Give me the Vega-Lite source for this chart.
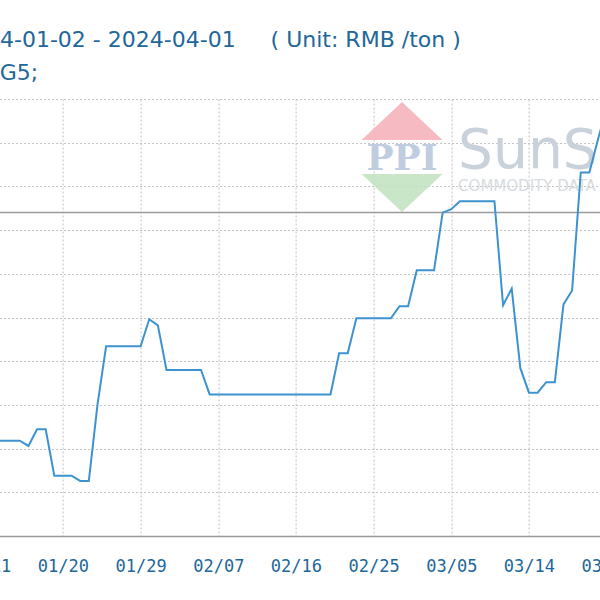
{
  "$schema": "https://vega.github.io/schema/vega-lite/v6.json",
  "autosize": "none",
  "width": 776.7,
  "height": 437,
  "padding": {"left": -92.4, "right": -84.3, "top": 99, "bottom": 64},
  "background": "white",
  "title": {
    "text": "2024-01-02 - 2024-04-01\u00a0\u00a0\u00a0\u00a0\u00a0( Unit: RMB /ton )",
    "anchor": "start",
    "frame": "group",
    "dx": 50.4,
    "offset": 10,
    "font": "DejaVu Sans",
    "fontSize": 22,
    "fontWeight": "normal",
    "color": "#22679a"
  },
  "config": {
    "view": {"stroke": null},
    "axis": {
      "gridColor": "#c2c2c2",
      "gridDash": [2, 2],
      "gridWidth": 1,
      "ticks": false
    }
  },
  "layer": [
    {
      "data": {"values": [{}]},
      "mark": {"type": "point", "filled": true, "shape": "M0,-0.47L1,0.47L-1,0.47Z", "size": 6561, "color": "#f4aeb9", "opacity": 0.85},
      "encoding": {
        "x": {"datum": {"year": 2024, "month": 2, "date": 28, "hours": 7, "utc": true}, "type": "temporal"},
        "y": {"datum": 24748, "type": "quantitative"}
      }
    },
    {
      "data": {"values": [{}]},
      "mark": {"type": "point", "filled": true, "shape": "M0,0.47L1,-0.47L-1,-0.47Z", "size": 6561, "color": "#bfe2bf", "opacity": 0.85},
      "encoding": {
        "x": {"datum": {"year": 2024, "month": 2, "date": 28, "hours": 7, "utc": true}, "type": "temporal"},
        "y": {"datum": 23924, "type": "quantitative"}
      }
    },
    {
      "data": {"values": [{}]},
      "mark": {"type": "text", "text": "PPI", "font": "DejaVu Serif", "fontWeight": "bold", "fontSize": 36, "align": "center", "baseline": "alphabetic", "color": "#c0cce0"},
      "encoding": {
        "x": {"datum": {"year": 2024, "month": 2, "date": 28, "hours": 7, "utc": true}, "type": "temporal"},
        "y": {"datum": 24187, "type": "quantitative"}
      }
    },
    {
      "data": {"values": [{}]},
      "mark": {"type": "text", "text": "SunSirs", "font": "DejaVu Sans", "fontSize": 55, "align": "left", "baseline": "alphabetic", "color": "#c9d1da"},
      "encoding": {
        "x": {"datum": {"year": 2024, "month": 3, "date": 5, "hours": 19, "utc": true}, "type": "temporal"},
        "y": {"datum": 24210, "type": "quantitative"}
      }
    },
    {
      "data": {"values": [{}]},
      "mark": {"type": "text", "text": "COMMODITY DATA GROUP", "font": "DejaVu Sans", "fontSize": 15, "align": "left", "baseline": "alphabetic", "color": "#d6dbe0"},
      "encoding": {
        "x": {"datum": {"year": 2024, "month": 3, "date": 5, "hours": 19, "utc": true}, "type": "temporal"},
        "y": {"datum": 23947, "type": "quantitative"}
      }
    },
    {
      "data": {"values": [{}]},
      "mark": {"type": "text", "text": "G5;", "font": "DejaVu Sans", "fontSize": 22, "align": "left", "baseline": "alphabetic", "color": "#22679a"},
      "encoding": {
        "x": {"datum": {"year": 2024, "month": 1, "date": 12, "hours": 16, "utc": true}, "type": "temporal"},
        "y": {"datum": 25217, "type": "quantitative"}
      }
    },
    {
      "data": {"values": [{}]},
      "mark": {"type": "rule", "color": "#9a9a9a", "strokeWidth": 1.5},
      "encoding": {"y": {"datum": 23700, "type": "quantitative"}}
    },
    {
      "data": {
        "values": [
          {"date": "2024-01-02", "price": 21090},
          {"date": "2024-01-03", "price": 21090},
          {"date": "2024-01-04", "price": 21090},
          {"date": "2024-01-05", "price": 21090},
          {"date": "2024-01-06", "price": 21090},
          {"date": "2024-01-07", "price": 21090},
          {"date": "2024-01-08", "price": 21090},
          {"date": "2024-01-09", "price": 21090},
          {"date": "2024-01-10", "price": 21090},
          {"date": "2024-01-11", "price": 21090},
          {"date": "2024-01-12", "price": 21090},
          {"date": "2024-01-13", "price": 21090},
          {"date": "2024-01-14", "price": 21090},
          {"date": "2024-01-15", "price": 21090},
          {"date": "2024-01-16", "price": 21030},
          {"date": "2024-01-17", "price": 21220},
          {"date": "2024-01-18", "price": 21220},
          {"date": "2024-01-19", "price": 20690},
          {"date": "2024-01-20", "price": 20690},
          {"date": "2024-01-21", "price": 20690},
          {"date": "2024-01-22", "price": 20630},
          {"date": "2024-01-23", "price": 20630},
          {"date": "2024-01-24", "price": 21500},
          {"date": "2024-01-25", "price": 22170},
          {"date": "2024-01-26", "price": 22170},
          {"date": "2024-01-27", "price": 22170},
          {"date": "2024-01-28", "price": 22170},
          {"date": "2024-01-29", "price": 22170},
          {"date": "2024-01-30", "price": 22480},
          {"date": "2024-01-31", "price": 22410},
          {"date": "2024-02-01", "price": 21900},
          {"date": "2024-02-02", "price": 21900},
          {"date": "2024-02-03", "price": 21900},
          {"date": "2024-02-04", "price": 21900},
          {"date": "2024-02-05", "price": 21900},
          {"date": "2024-02-06", "price": 21620},
          {"date": "2024-02-07", "price": 21620},
          {"date": "2024-02-08", "price": 21620},
          {"date": "2024-02-09", "price": 21620},
          {"date": "2024-02-10", "price": 21620},
          {"date": "2024-02-11", "price": 21620},
          {"date": "2024-02-12", "price": 21620},
          {"date": "2024-02-13", "price": 21620},
          {"date": "2024-02-14", "price": 21620},
          {"date": "2024-02-15", "price": 21620},
          {"date": "2024-02-16", "price": 21620},
          {"date": "2024-02-17", "price": 21620},
          {"date": "2024-02-18", "price": 21620},
          {"date": "2024-02-19", "price": 21620},
          {"date": "2024-02-20", "price": 21620},
          {"date": "2024-02-21", "price": 22090},
          {"date": "2024-02-22", "price": 22090},
          {"date": "2024-02-23", "price": 22490},
          {"date": "2024-02-24", "price": 22490},
          {"date": "2024-02-25", "price": 22490},
          {"date": "2024-02-26", "price": 22490},
          {"date": "2024-02-27", "price": 22490},
          {"date": "2024-02-28", "price": 22630},
          {"date": "2024-02-29", "price": 22630},
          {"date": "2024-03-01", "price": 23040},
          {"date": "2024-03-02", "price": 23040},
          {"date": "2024-03-03", "price": 23040},
          {"date": "2024-03-04", "price": 23700},
          {"date": "2024-03-05", "price": 23740},
          {"date": "2024-03-06", "price": 23830},
          {"date": "2024-03-07", "price": 23830},
          {"date": "2024-03-08", "price": 23830},
          {"date": "2024-03-09", "price": 23830},
          {"date": "2024-03-10", "price": 23830},
          {"date": "2024-03-11", "price": 22640},
          {"date": "2024-03-12", "price": 22830},
          {"date": "2024-03-13", "price": 21920},
          {"date": "2024-03-14", "price": 21640},
          {"date": "2024-03-15", "price": 21640},
          {"date": "2024-03-16", "price": 21760},
          {"date": "2024-03-17", "price": 21760},
          {"date": "2024-03-18", "price": 22650},
          {"date": "2024-03-19", "price": 22810},
          {"date": "2024-03-20", "price": 24160},
          {"date": "2024-03-21", "price": 24160},
          {"date": "2024-03-22", "price": 24540},
          {"date": "2024-03-23", "price": 24900},
          {"date": "2024-03-24", "price": 24900},
          {"date": "2024-03-25", "price": 24900},
          {"date": "2024-03-26", "price": 24900},
          {"date": "2024-03-27", "price": 24900},
          {"date": "2024-03-28", "price": 24900},
          {"date": "2024-03-29", "price": 24900},
          {"date": "2024-03-30", "price": 24900},
          {"date": "2024-03-31", "price": 24900},
          {"date": "2024-04-01", "price": 24900}
        ]
      },
      "mark": {"type": "line", "color": "#3d93d0", "strokeWidth": 2, "interpolate": "linear"},
      "encoding": {
        "x": {
          "field": "date",
          "type": "temporal",
          "title": null,
          "scale": {
            "type": "utc",
            "domain": [
              {"year": 2024, "month": 1, "date": 2, "utc": true},
              {"year": 2024, "month": 4, "date": 1, "utc": true}
            ]
          },
          "axis": {
            "values": [
              {"year": 2024, "month": 1, "date": 2, "utc": true},
              {"year": 2024, "month": 1, "date": 11, "utc": true},
              {"year": 2024, "month": 1, "date": 20, "utc": true},
              {"year": 2024, "month": 1, "date": 29, "utc": true},
              {"year": 2024, "month": 2, "date": 7, "utc": true},
              {"year": 2024, "month": 2, "date": 16, "utc": true},
              {"year": 2024, "month": 2, "date": 25, "utc": true},
              {"year": 2024, "month": 3, "date": 5, "utc": true},
              {"year": 2024, "month": 3, "date": 14, "utc": true},
              {"year": 2024, "month": 3, "date": 23, "utc": true},
              {"year": 2024, "month": 4, "date": 1, "utc": true}
            ],
            "labelExpr": "utcFormat(datum.value, '%m/%d')",
            "labelFont": "DejaVu Sans Mono",
            "labelFontSize": 17,
            "labelColor": "#22679a",
            "labelPadding": 22,
            "labelOverlap": false,
            "labelFlush": false,
            "domainColor": "#999999",
            "domainWidth": 1.5,
            "grid": true
          }
        },
        "y": {
          "field": "price",
          "type": "quantitative",
          "title": null,
          "scale": {"domain": [20000, 25000], "nice": false, "zero": false},
          "axis": {
            "values": [20000, 20500, 21000, 21500, 22000, 22500, 23000, 23500, 24000, 24500, 25000],
            "labels": false,
            "domain": false,
            "grid": true
          }
        }
      }
    }
  ]
}
